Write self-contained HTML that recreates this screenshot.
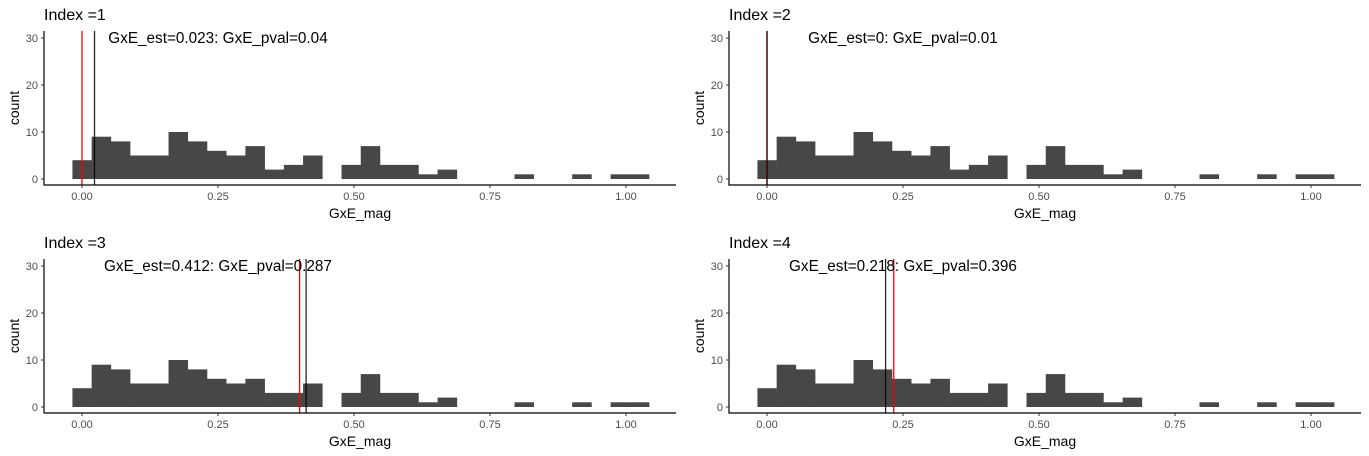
<!DOCTYPE html>
<html><head><meta charset="utf-8"><style>
body{margin:0;background:#fff}
svg{display:block;font-family:"Liberation Sans",Arial,sans-serif}
</style></head><body>
<svg id="chart" width="1369" height="456" viewBox="0 0 1369 456" xmlns="http://www.w3.org/2000/svg"></svg>
<script>
const binStart = -0.0176;
const binWidth = 0.035333;
const counts1 = [4,9,8,5,5,10,8,6,5,7,2,3,5,0,3,7,3,3,1,2,0,0,0,1,0,0,1,0,1,1];
const counts2 = [4,9,8,5,5,10,8,6,5,7,2,3,5,0,3,7,3,3,1,2,0,0,0,1,0,0,1,0,1,1];
const counts3 = [4,9,8,5,5,10,8,6,5,6,3,3,5,0,3,7,3,3,1,2,0,0,0,1,0,0,1,0,1,1];
const counts4 = [4,9,8,5,5,10,8,6,5,6,3,3,5,0,3,7,3,3,1,2,0,0,0,1,0,0,1,0,1,1];
const titles = ["Index =1","Index =2","Index =3","Index =4"];
const estVals = [0.023, 0, 0.412, 0.218];
const redVals = [0, 0, 0.40, 0.233];
const labels = ["GxE_est=0.023: GxE_pval=0.04","GxE_est=0: GxE_pval=0.01","GxE_est=0.412: GxE_pval=0.287","GxE_est=0.218: GxE_pval=0.396"];
const xTicks = [0, 0.25, 0.5, 0.75, 1.0];
const xTickLabels = ["0.00","0.25","0.50","0.75","1.00"];
const yTicks = [0, 10, 20, 30];
const annotX = 0.25, annotY = 30;

const allCounts=[counts1,counts2,counts3,counts4];
const svg=document.getElementById('chart');
const NS='http://www.w3.org/2000/svg';
function mk(tag,attrs,parent){const e=document.createElementNS(NS,tag);for(const k in attrs)e.setAttribute(k,attrs[k]);parent.appendChild(e);return e;}
for(let p=0;p<4;p++){
  const ox=(p%2)*685, oy=Math.floor(p/2)*228;
  const g=mk('g',{},svg);
  
  
  const sx=v=>ox+82+v*544;
  const sy=v=>oy+179-v*4.7;
  const t=mk('text',{x:ox+44,y:oy+20,'font-size':16,fill:'#000'},g);t.textContent=titles[p];
  
  
  allCounts[p].forEach((c,i)=>{
    if(c<=0)return;
    const x0=sx(binStart+i*binWidth),x1=sx(binStart+(i+1)*binWidth);
    const r=mk('rect',{x:x0,y:sy(c),width:x1-x0+0.3,height:sy(0)-sy(c),fill:'#474747'},g);
    
    
  });
  const top=oy+31, bot=oy+185;
  const rl=mk('line',{x1:sx(redVals[p]),x2:sx(redVals[p]),y1:top,y2:bot,stroke:'#ff0000','stroke-width':1.3},g);
  
  
  const bl=mk('line',{x1:sx(estVals[p]),x2:sx(estVals[p]),y1:top,y2:bot,stroke:'#000','stroke-width':1.3,'stroke-opacity':0.85},g);
  
  
  const an=mk('text',{x:sx(annotX),y:sy(annotY)+5,'font-size':15.3,'text-anchor':'middle',fill:'#000'},g);an.textContent=labels[p];
  
  
  const ya=mk('line',{x1:ox+44,x2:ox+44,y1:top,y2:bot+0.5,stroke:'#000','stroke-width':1.2},g);
  
  
  const xa=mk('line',{x1:ox+43.5,x2:ox+676,y1:bot,y2:bot,stroke:'#000','stroke-width':1.2},g);
  
  
  yTicks.forEach(v=>{
    mk('line',{x1:ox+41,x2:ox+44,y1:sy(v),y2:sy(v),stroke:'#333'},g);
    const l=mk('text',{x:ox+38,y:sy(v)+4,'font-size':11,'text-anchor':'end',fill:'#4d4d4d'},g);l.textContent=v;
    
    
  });
  xTicks.forEach((v,i)=>{
    mk('line',{x1:sx(v),x2:sx(v),y1:bot,y2:bot+3,stroke:'#333'},g);
    const l=mk('text',{x:sx(v),y:bot+15,'font-size':11,'text-anchor':'middle',fill:'#4d4d4d'},g);l.textContent=xTickLabels[i];
    
    
  });
  const xt=mk('text',{x:ox+360,y:oy+218,'font-size':14,'text-anchor':'middle',fill:'#000'},g);xt.textContent='GxE_mag';
  
  
  const yt=mk('text',{x:0,y:0,'font-size':14,'text-anchor':'middle',fill:'#000',transform:`translate(${ox+19},${oy+108}) rotate(-90)`},g);yt.textContent='count';
  
  
}
</script>
</body></html>
